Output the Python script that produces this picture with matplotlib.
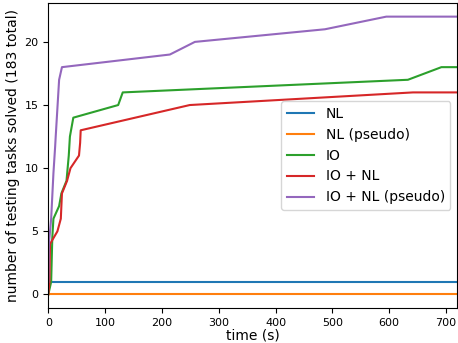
import numpy as np
import matplotlib
matplotlib.use("Agg")
import matplotlib.pyplot as plt

# cumulative number of solved tasks vs. time (s)
nl_t = [0, 720]
nl_v = [1, 1]

nl_pseudo_t = [0, 720]
nl_pseudo_v = [0, 0]

io_t = [0, 5, 7, 9, 19, 23, 32, 36, 38, 44, 123, 131, 633, 692, 720]
io_v = [0, 1, 4.5, 6, 7, 8, 9, 11, 12.5, 14, 15, 16, 17, 18, 18]

io_nl_t = [0, 2, 3, 16, 22, 24, 33, 39, 54, 56, 57, 249, 642, 720]
io_nl_v = [0, 1, 4, 5, 6, 8, 9, 10, 11, 12, 13, 15, 16, 16]

io_nl_pseudo_t = [0, 1, 5, 9, 12, 13, 19, 24, 214, 258, 487, 595, 720]
io_nl_pseudo_v = [1, 4, 6, 9.6, 11.7, 12.5, 17, 18, 19, 20, 21, 22, 22]


def plot_results():
    fig = plt.figure(figsize=(4.58, 3.43), dpi=100)
    ax = fig.add_axes([0.1055, 0.101, 0.893, 0.891])
    ax.plot(nl_t, nl_v, label="NL")
    ax.plot(nl_pseudo_t, nl_pseudo_v, label="NL (pseudo)")
    ax.plot(io_t, io_v, label="IO")
    ax.plot(io_nl_t, io_nl_v, label="IO + NL")
    ax.plot(io_nl_pseudo_t, io_nl_pseudo_v, label="IO + NL (pseudo)")
    ax.set_xlim(0, 720)
    ax.set_xlabel("time (s)", fontsize=10, labelpad=0.5)
    ax.set_ylabel("number of testing tasks solved (183 total)", fontsize=10, labelpad=3)
    ax.tick_params(labelsize=8)
    ax.legend(loc="center right", fontsize=10)
    fig.savefig("out.png", dpi=100)
    plt.close("all")


if __name__ == "__main__":
    plot_results()
